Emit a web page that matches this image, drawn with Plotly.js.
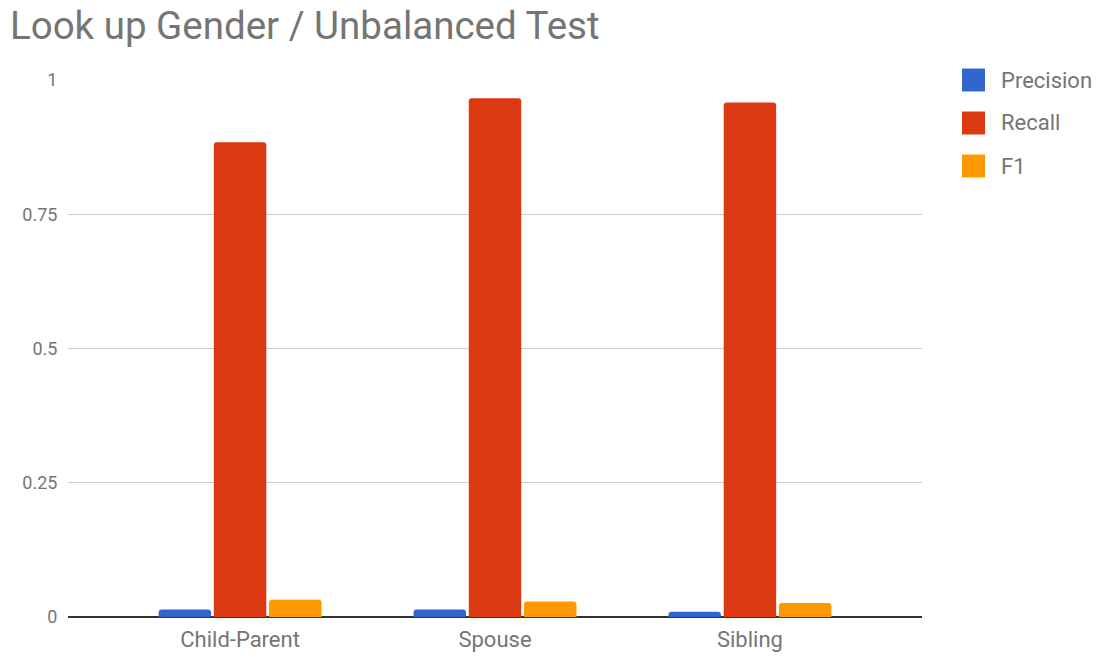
<!DOCTYPE html>
<html>
<head>
<meta charset="utf-8">
<script src="https://cdn.plot.ly/plotly-3.0.1.min.js"></script>
<style>html,body{margin:0;padding:0;background:#fff}#chart{width:1106px;height:657px}</style>
</head>
<body>
<div id="chart"></div>
<script>
const categories = ["Child-Parent", "Spouse", "Sibling"];
const precision = [0.014, 0.014, 0.010];
const recall = [0.884, 0.966, 0.958];
const f1 = [0.032, 0.029, 0.026];
const seriesNames = ["Precision", "Recall", "F1"];
const colors = ["#3366cc", "#dc3912", "#ff9900"];
const yTicks = [0, 0.25, 0.5, 0.75, 1];
const yTickText = ["0", "0.25", "0.5", "0.75", "1"];

const W = 1106, H = 657;
const M = {l: 68, r: 184, t: 80, b: 40};
const PW = W - M.l - M.r, PH = H - M.t - M.b;
const px2x = px => (px - M.l) / PW;
const py2y = py => (H - M.b - py) / PH;

const series = [precision, recall, f1];
const traces = series.map((vals, i) => ({
  type: "bar",
  name: seriesNames[i],
  x: categories,
  y: vals,
  marker: {color: colors[i], cornerradius: 3},
  hoverinfo: "x+y+name"
}));

// custom legend (matches the reference's large swatches)
const shapes = [], annotations = [];
seriesNames.forEach((name, i) => {
  const cy = 80 + i * 43;
  shapes.push({type: "rect", xref: "paper", yref: "paper",
    x0: px2x(962), x1: px2x(985), y0: py2y(cy + 11.5), y1: py2y(cy - 11.5),
    fillcolor: colors[i], line: {width: 0}});
  annotations.push({xref: "paper", yref: "paper", x: px2x(999), y: py2y(cy),
    xanchor: "left", yanchor: "middle", text: name, showarrow: false,
    font: {family: "Roboto", size: 22, color: "#757575"}});
});

const layout = {
  width: W, height: H,
  margin: M,
  paper_bgcolor: "#fff", plot_bgcolor: "#fff",
  title: {text: "Look up Gender / Unbalanced Test", x: 0.009, xanchor: "left", y: 0.961, yanchor: "middle",
          font: {family: "Roboto", size: 38.5, color: "#757575"}},
  barmode: "group", bargap: 0.35, bargroupgap: 0.05,
  font: {family: "Roboto", color: "#757575"},
  xaxis: {range: [-0.675, 2.675], showgrid: false, tickfont: {size: 22, color: "#757575"},
          ticks: "outside", ticklen: 3, tickcolor: "rgba(0,0,0,0)", showline: false, zeroline: false},
  yaxis: {range: [0, 1], tickvals: yTicks, ticktext: yTickText, gridcolor: "#cccccc", gridwidth: 1,
          zeroline: true, zerolinecolor: "#333333", zerolinewidth: 1.5, showline: false,
          tickfont: {size: 18, color: "#757575"}, ticks: "outside", ticklen: 6, tickcolor: "rgba(0,0,0,0)",
          automargin: false},
  showlegend: false,
  shapes: shapes,
  annotations: annotations
};

Plotly.newPlot("chart", traces, layout, {displayModeBar: false, staticPlot: true});
</script>
</body>
</html>
